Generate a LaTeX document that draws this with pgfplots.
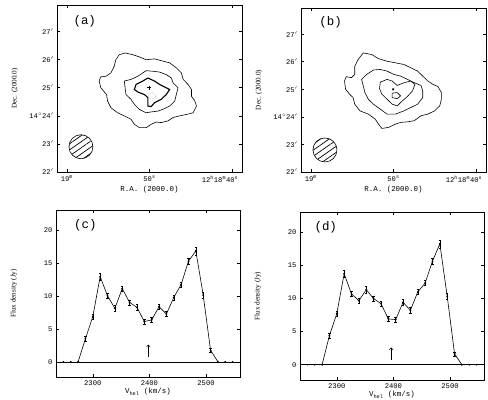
\documentclass[border=0pt]{standalone}
\usepackage{fontspec}
\setmainfont{Liberation Serif}
\setmonofont{Liberation Mono}
\usepackage{pgfplots}
\pgfplotsset{compat=1.18}
\usetikzlibrary{patterns.meta,arrows.meta}

\tikzset{lab/.style={font=\ttfamily\fontsize{12.5}{13}\selectfont}}
\pgfplotsset{
  common/.style={
    scale only axis, anchor=north west,
    tick align=inside, major tick length=3bp,
    axis line style={line width=0.8bp},
    every tick/.style={black,line width=0.6bp},
    tick label style={font=\ttfamily\fontsize{7.2}{8}\selectfont},
    /pgf/number format/assume math mode=true,
    /pgf/number format/1000 sep={},
    xlabel style={font=\ttfamily\fontsize{7.5}{8}\selectfont,
      at={(axis description cs:0.5,0)}, anchor=center, yshift=-18bp},
    ylabel style={font=\rmfamily\fontsize{7.2}{8}\selectfont,
      at={(axis description cs:0,0.5)}, anchor=center, yshift=42bp},
  },
  mapax/.style={common,
    width=185bp, height=167bp,
    xmin=38.8, xmax=61.2, x dir=reverse,
    ymin=22, ymax=27.95,
    xtick={60,50,40},
    xticklabels={19\textsuperscript{m},50\textsuperscript{s},\llap{12\textsuperscript{h}18\textsuperscript{m}}40\textsuperscript{s}},
    ytick={22,...,27},
    yticklabels={22$'$,23$'$,14$^\circ$24$'$,25$'$,26$'$,27$'$},
    xlabel={R.A. (2000.0)}, ylabel={Dec. (2000.0)},
  },
  specax/.style={common,
    width=184bp, height=167bp,
    xmin=2235, xmax=2560, ymin=-2.3, ymax=23,
    xtick={2300,2400,2500}, ytick={0,5,10,15,20},
    xlabel={V\textsubscript{hel} (km/s)}, ylabel={Flux density (Jy)},
    xlabel style={yshift=3bp},
  },
  cont/.style={black, line width=0.6bp},
  beam/.style={only marks, mark=*, mark size=12bp,
    mark options={draw=black, line width=0.6bp,
      pattern={Lines[angle=35,distance=5bp,line width=0.7bp]}}},
  spec/.style={black, line width=0.6bp, mark=*, mark size=0.6bp,
    error bars/.cd, y dir=both, y explicit,
    error bar style={line width=0.5bp},
    error mark options={rotate=90, mark size=1.2bp, line width=0.5bp}},
}

\begin{document}
\begin{tikzpicture}
\useasboundingbox (0,0) rectangle (488bp,-400bp);

% (a) integrated map
\begin{axis}[mapax, at={(57bp,-5bp)}]
\addplot[cont] coordinates {
 (52.93,26.24) (52.03,26.18) (51.22,26.10) (50.41,26.00) (49.39,26.03)
 (48.37,25.95) (47.56,25.89) (46.75,25.71) (46.14,25.53) (45.93,25.30)
 (45.33,25.12) (44.92,24.94) (44.92,24.70) (44.51,24.53) (44.31,24.35)
 (44.72,24.11) (45.53,24.05) (46.34,24.00) (47.15,23.94) (47.76,23.82)
 (48.58,23.76) (49.19,23.78) (49.80,23.70) (50.41,23.58) (51.22,23.58)
 (51.83,23.70) (52.24,23.88) (53.05,24.00) (53.86,24.11) (54.67,24.29)
 (55.08,24.53) (55.20,24.76) (55.89,25.00) (56.10,25.24) (55.89,25.39)
 (55.28,25.41) (54.67,25.53) (54.27,25.77) (54.07,26.00) (53.66,26.18)
 (52.93,26.24)};
\addplot[cont] coordinates {
 (50.41,25.61) (49.59,25.59) (48.78,25.56) (47.97,25.47) (47.36,25.35)
 (47.15,25.18) (46.54,25.00) (46.75,24.76) (46.95,24.53) (47.56,24.35)
 (48.17,24.26) (48.98,24.17) (49.80,24.14) (50.41,24.11) (51.22,24.23)
 (51.83,24.41) (52.24,24.59) (52.85,24.76) (52.93,24.94) (53.05,25.24)
 (52.24,25.30) (51.42,25.41) (50.41,25.61)};
\addplot[black, line width=1.1bp] coordinates {
 (50.20,25.35) (49.39,25.24) (48.78,25.12) (47.97,25.00) (47.56,24.94)
 (47.97,24.76) (48.58,24.59) (49.39,24.47) (49.80,24.33) (50.20,24.35)
 (50.20,24.65) (50.61,24.76) (51.42,24.85) (51.83,24.94) (51.63,25.12)
 (50.81,25.24) (50.20,25.35)};
\addplot[gray!60, densely dotted, line width=0.5bp] coordinates {
 (50.20,24.79) (49.59,24.83) (49.19,24.73) (49.51,24.61) (50.08,24.64) (50.20,24.79)};
\addplot[only marks, mark=+, mark size=2bp, mark options={line width=0.6bp}] coordinates {(50.08,25.0)};
\addplot[beam] coordinates {(58.3,22.9)};
\node[lab] at (rel axis cs:0.15,0.9) {(a)};
\end{axis}

% (b) map
\begin{axis}[mapax, at={(301bp,-8bp)}, height=164bp]
\addplot[cont] coordinates {
 (53.66,26.32) (52.63,26.26) (51.81,26.11) (50.78,26.02) (49.75,25.96)
 (48.72,25.90) (47.90,25.78) (47.08,25.66) (46.46,25.48) (45.84,25.30)
 (45.23,25.18) (44.61,25.10) (44.20,24.88) (44.20,24.64) (44.40,24.40)
 (45.02,24.22) (45.84,24.10) (46.67,24.04) (47.49,23.86) (48.31,23.82)
 (49.14,23.80) (49.75,23.74) (50.58,23.62) (51.40,23.58) (51.81,23.74)
 (52.22,23.92) (53.05,24.10) (54.07,24.22) (54.69,24.46) (54.90,24.70)
 (55.31,24.82) (55.80,25.00) (55.93,25.30) (55.72,25.46) (55.10,25.42)
 (54.69,25.54) (54.69,25.84) (54.28,26.08) (53.66,26.32)};
\addplot[cont] coordinates {
 (53.25,25.54) (52.43,25.70) (51.60,25.72) (50.78,25.66) (49.96,25.54)
 (49.14,25.48) (48.31,25.36) (47.49,25.24) (46.67,25.14) (46.46,24.94)
 (46.46,24.70) (47.08,24.46) (47.90,24.34) (48.72,24.22) (49.75,24.10)
 (50.78,24.10) (51.60,24.28) (52.43,24.46) (53.05,24.64) (53.46,24.88)
 (53.66,25.12) (53.87,25.36) (53.25,25.54)};
\addplot[cont] coordinates {
 (51.60,25.26) (50.78,25.36) (50.16,25.30) (49.55,25.14) (48.72,25.24)
 (47.90,25.30) (47.41,25.18) (47.70,24.94) (48.31,24.74) (48.93,24.58)
 (49.55,24.40) (50.16,24.46) (50.78,24.64) (51.40,24.82) (51.69,25.02)
 (51.60,25.26)};
\addplot[cont] coordinates {
 (50.16,24.86) (49.55,24.88) (49.14,24.76) (49.55,24.66) (50.16,24.70) (50.16,24.86)};
\addplot[only marks, mark=asterisk, mark size=1.2bp, mark options={line width=0.4bp}] coordinates {(50.04,25.0)};
\addplot[beam] coordinates {(58.3,22.8)};
\node[lab] at (rel axis cs:0.16,0.915) {(b)};
\end{axis}

% (c) spectrum
\begin{axis}[specax, at={(56bp,-210bp)}]
\addplot[black, line width=0.6bp] coordinates {(2235,0) (2560,0)};
\addplot[spec] coordinates {
 (2274,0) +- (0,0)
 (2287,3.5) +- (0,0.4) (2300,6.85) +- (0,0.4) (2313,12.9) +- (0,0.5)
 (2326,10.0) +- (0,0.4) (2339,8.1) +- (0,0.4) (2352,11.1) +- (0,0.4)
 (2365,9.0) +- (0,0.4) (2378,8.25) +- (0,0.4) (2391,6.1) +- (0,0.4)
 (2404,6.35) +- (0,0.4) (2417,8.35) +- (0,0.4) (2430,7.25) +- (0,0.4)
 (2443,9.75) +- (0,0.4) (2456,11.7) +- (0,0.4) (2469,15.25) +- (0,0.5)
 (2482,16.8) +- (0,0.6) (2495,10.1) +- (0,0.4) (2508,1.75) +- (0,0.3)
 (2521,0) +- (0,0)};
\addplot[only marks, mark=*, mark size=0.6bp] coordinates {(2248,0) (2261,0) (2534,0) (2547,0)};
\addplot[-{To[length=2.5bp,width=4bp]}, line width=0.5bp] coordinates {(2398,0.7) (2398,2.6)};
\node[lab] at (rel axis cs:0.16,0.91) {(c)};
\end{axis}

% (d) spectrum
\begin{axis}[specax, at={(300bp,-212bp)}, height=168bp]
\addplot[black, line width=0.6bp] coordinates {(2235,0) (2560,0)};
\addplot[spec] coordinates {
 (2274,0) +- (0,0)
 (2287,4.4) +- (0,0.4) (2300,7.7) +- (0,0.4) (2313,13.7) +- (0,0.6)
 (2326,10.65) +- (0,0.4) (2339,9.65) +- (0,0.4) (2352,11.3) +- (0,0.5)
 (2365,9.95) +- (0,0.4) (2378,9.2) +- (0,0.4) (2391,6.9) +- (0,0.4)
 (2404,6.8) +- (0,0.4) (2417,9.4) +- (0,0.4) (2430,8.2) +- (0,0.4)
 (2443,10.95) +- (0,0.4) (2456,12.3) +- (0,0.4) (2469,15.6) +- (0,0.5)
 (2482,18.2) +- (0,0.6) (2495,10.3) +- (0,0.4) (2508,1.65) +- (0,0.3)
 (2521,0) +- (0,0)};
\addplot[only marks, mark=*, mark size=0.6bp] coordinates {(2248,0) (2261,0) (2534,0) (2547,0)};
\addplot[-{To[length=2.5bp,width=4bp]}, line width=0.5bp] coordinates {(2396,0.7) (2396,2.6)};
\node[lab] at (rel axis cs:0.14,0.91) {(d)};
\end{axis}
\end{tikzpicture}
\end{document}
